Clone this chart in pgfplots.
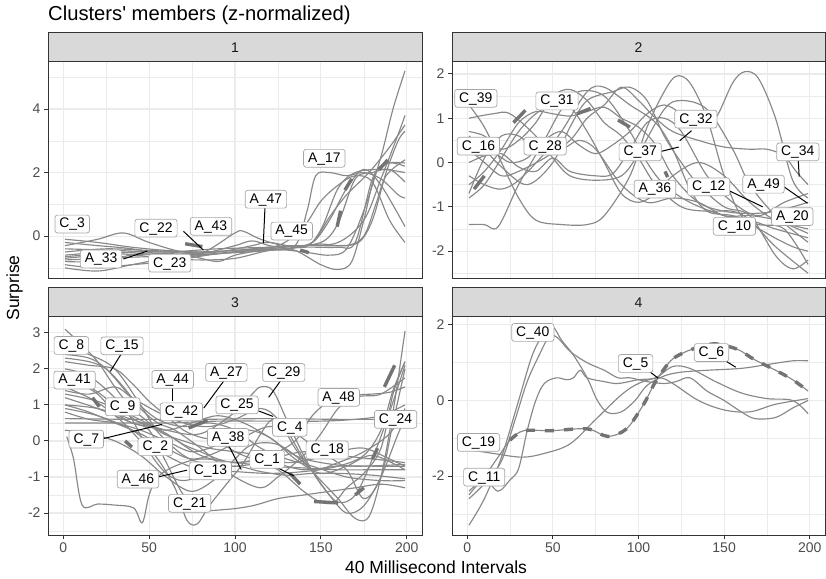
\documentclass[border=0pt]{standalone}
\usepackage{fontspec}
\setmainfont{Liberation Sans}
\usepackage{pgfplots}
\pgfplotsset{compat=1.18}
\definecolor{ln}{HTML}{888888}
\definecolor{hlc}{HTML}{737373}
\definecolor{gridc}{HTML}{EBEBEB}
\definecolor{bord}{HTML}{333333}
\definecolor{stripc}{HTML}{D9D9D9}
\definecolor{tickl}{HTML}{4D4D4D}
\definecolor{labb}{HTML}{A6A6A6}
\newcommand\labf{\fontsize{13.9pt}{15pt}\selectfont}
\newcommand\tickf{\fontsize{14pt}{15pt}\selectfont}
\pgfplotsset{
  panel/.style={
    scale only axis, width=374pt, height=217pt,
    xmin=-8.9, xmax=208.9,
    xtick={0,50,100,150,200}, minor xtick={25,75,125,175},
    grid=both,
    major grid style={gridc, line width=1.1pt},
    minor grid style={gridc, line width=0.55pt},
    axis line style={bord, line width=1pt},
    tick style={bord, line width=1pt},
    tick align=outside, major tick length=4pt, minor tick length=0pt,
    tick pos=left,
    tick label style={font=\tickf, text=tickl},
    /pgf/number format/assume math mode=true,
  },
  dl/.style={ln, line width=1.15pt, smooth, tension=0.55, mark=none},
  hl/.style={hlc, line width=3.4pt, smooth, mark=none},
}
\tikzset{
  lab/.style={draw=labb, fill=white, rounded corners=2.5pt, font=\labf, inner xsep=4.5pt, inner ysep=2.8pt, text height=10pt, text depth=2.2pt, line width=0.7pt, text=black},
  con/.style={black, line width=1pt},
}
\begin{document}
\begin{tikzpicture}
\useasboundingbox (0pt,0pt) rectangle (826pt,578pt);
% ---------------- Panel 1
\begin{axis}[panel, at={(48pt,299pt)}, anchor=south west, ymin=-1.35, ymax=5.48, ytick={0,2,4}, minor ytick={-1,1,3,5}, xticklabels={}, xtick style={draw=none}]
\addplot[dl] coordinates {(1,-0.1)(20,-0.2)(40,-0.35)(60,-0.45)(80,-0.5)(100,-0.45)(120,-0.35)(140,-0.3)(160,-0.2)(175,0.5)(185,1.8)(195,3.2)(199,3.8)};
\addplot[dl] coordinates {(1,-0.3)(20,-0.1)(35,0.1)(50,-0.2)(70,-0.5)(90,-0.5)(110,-0.3)(120,-0.2)(140,-0.35)(150,0.2)(160,1.5)(170,2.0)(185,2.1)(199,2.0)};
\addplot[dl] coordinates {(1,-0.6)(30,-0.5)(60,-0.6)(90,-0.55)(120,-0.45)(135,-0.3)(142,0.8)(147,1.9)(155,2.0)(165,1.9)(175,2.0)(185,1.8)(195,1.3)(199,1.2)};
\addplot[dl] coordinates {(1,-0.8)(20,-0.8)(40,-0.6)(60,-0.55)(80,-0.6)(100,-0.5)(120,-0.4)(140,-0.5)(155,-0.6)(165,-0.4)(175,0.8)(185,2.5)(192,4.0)(199,5.2)};
\addplot[dl] coordinates {(1,-0.9)(20,-1.0)(40,-0.9)(60,-0.8)(80,-0.6)(100,-0.5)(120,-0.4)(140,-0.3)(160,-0.3)(172,-0.2)(180,0.5)(188,2.0)(195,3.0)(199,3.3)};
\addplot[dl] coordinates {(1,-0.7)(20,-0.6)(40,-0.5)(60,-0.5)(80,-0.55)(100,-0.3)(110,-0.15)(120,-0.3)(135,-0.45)(150,-0.9)(160,-1.05)(168,-0.8)(175,0.5)(182,2.0)(190,2.3)(199,2.3)};
\addplot[dl] coordinates {(1,-0.5)(25,-0.4)(50,-0.45)(75,-0.5)(100,-0.45)(125,-0.3)(140,0.3)(150,1.1)(160,1.6)(170,1.9)(180,1.7)(190,0.5)(199,-0.2)};
\addplot[dl] coordinates {(1,-0.75)(25,-0.7)(50,-0.65)(70,-0.7)(90,-0.55)(110,-0.45)(130,-0.4)(145,-0.2)(155,0.5)(165,1.5)(175,2.1)(185,1.6)(199,0.3)};
\addplot[dl] coordinates {(1,-1.0)(20,-1.1)(40,-0.9)(60,-0.7)(75,-0.65)(90,-0.8)(100,-0.6)(115,-0.45)(130,-0.4)(145,-0.2)(155,0.6)(165,1.3)(178,2.0)(190,2.8)(199,3.5)};
\addplot[dl] coordinates {(1,-0.2)(20,-0.3)(40,-0.4)(60,-0.6)(80,-0.55)(100,0.1)(105,0.15)(115,-0.1)(130,-0.3)(150,-0.2)(160,0.4)(170,1.8)(180,2.0)(190,2.1)(199,1.7)};
\addplot[dl] coordinates {(1,-0.65)(30,-0.55)(60,-0.7)(80,-0.75)(100,-0.7)(120,-0.45)(140,-0.35)(160,-0.35)(170,-0.2)(180,1.8)(188,2.3)(199,2.2)};
\addplot[dl] coordinates {(1,-0.4)(30,-0.45)(60,-0.5)(90,-0.4)(120,-0.35)(140,-0.3)(150,-0.25)(165,-0.3)(175,0.0)(182,1.0)(188,1.9)(199,2.4)};
\addplot[hl] coordinates {(164,1.45)(168,1.8)};
\addplot[hl] coordinates {(184,2.1)(189,2.4)};
\addplot[hl] coordinates {(159.5,0.3)(161.5,0.8)};
\addplot[hl] coordinates {(138,-0.44)(143,-0.52)};
\addplot[hl] coordinates {(71,-0.24)(81,-0.33)};
\draw[con] (70,0.15) -- (81.6,-0.44);
\draw[con] (35,-0.72) -- (49,-0.47);
\draw[con] (117.5,0.95) -- (116.5,-0.22);
\node[lab] at (5.2,0.38) {C\_3};
\node[lab] at (54,0.25) {C\_22};
\node[lab] at (86,0.31) {A\_43};
\node[lab] at (22,-0.72) {A\_33};
\node[lab] at (62,-0.85) {C\_23};
\node[lab] at (118,1.16) {A\_47};
\node[lab] at (133,0.16) {A\_45};
\node[lab] at (152,2.45) {A\_17};
\end{axis}
% ---------------- Panel 2
\begin{axis}[panel, at={(452pt,299pt)}, anchor=south west, width=373pt, ymin=-2.63, ymax=2.27, ytick={-2,-1,0,1,2}, minor ytick={-2.5,-1.5,-0.5,0.5,1.5}, xticklabels={}, xtick style={draw=none}]
\addplot[dl] coordinates {(1,-1.4)(10,-1.4)(18,-1.45)(30,-0.5)(45,0.5)(55,1.2)(65,1.6)(80,1.5)(95,0.7)(105,0.0)(115,-0.5)(130,-0.9)(150,-1.2)(165,-1.3)(180,-1.5)(199,-1.7)};
\addplot[dl] coordinates {(1,1.3)(10,0.8)(20,0.0)(30,-0.8)(40,-1.3)(55,-1.4)(70,-1.4)(80,-1.2)(95,-0.3)(105,0.8)(115,1.6)(122,1.95)(130,1.8)(140,1.0)(150,-0.3)(160,-1.2)(175,-1.6)(190,-1.9)(199,-2.0)};
\addplot[dl] coordinates {(1,1.0)(15,1.1)(25,1.1)(40,0.6)(50,0.1)(60,-0.3)(75,-0.4)(90,-0.3)(100,0.2)(115,1.2)(125,1.4)(140,1.2)(155,0.3)(165,-0.5)(180,-1.2)(199,-1.8)};
\addplot[dl] coordinates {(1,-0.7)(10,0.1)(20,0.6)(30,0.6)(40,0.3)(55,0.3)(65,0.5)(75,0.3)(90,-0.5)(105,-0.9)(120,-0.8)(135,-0.9)(150,-1.2)(165,-1.2)(180,-1.3)(199,-1.6)};
\addplot[dl] coordinates {(1,-0.5)(10,-0.2)(20,0.3)(30,0.9)(40,1.15)(50,1.1)(60,1.05)(70,1.15)(80,1.25)(90,1.0)(100,0.8)(110,0.4)(120,-0.3)(135,-0.9)(150,-1.1)(165,-1.15)(180,-1.1)(199,-0.9)};
\addplot[dl] coordinates {(1,-0.3)(10,-0.5)(20,-0.6)(30,-0.4)(45,0.2)(55,0.7)(70,1.6)(80,1.7)(95,1.3)(110,0.9)(120,0.3)(130,-0.6)(140,-1.1)(155,-1.2)(170,-1.4)(185,-1.5)(199,-2.3)};
\addplot[dl] coordinates {(1,0.6)(10,0.3)(20,-0.1)(35,-0.5)(50,0.0)(60,0.8)(70,1.4)(85,1.6)(95,1.7)(105,1.4)(115,0.6)(125,0.0)(135,-0.5)(150,-1.0)(165,-1.2)(180,-2.1)(190,-2.4)(199,-2.2)};
\addplot[dl] coordinates {(1,0.0)(15,0.2)(25,0.0)(35,0.1)(45,0.5)(55,0.7)(65,0.4)(75,0.2)(85,0.4)(95,0.7)(105,1.1)(115,1.3)(125,1.1)(135,0.8)(145,1.0)(155,1.8)(162,2.05)(170,1.9)(180,1.0)(190,-0.4)(199,-0.8)};
\addplot[dl] coordinates {(1,0.3)(10,0.0)(20,-0.3)(30,-0.2)(45,0.1)(60,0.5)(70,1.0)(80,1.3)(90,1.7)(100,1.4)(110,1.0)(120,0.7)(135,0.5)(150,0.35)(165,0.3)(175,0.3)(185,0.15)(192,-0.2)(199,-0.5)};
\addplot[dl] coordinates {(1,-0.8)(10,-0.5)(20,0.1)(30,0.7)(40,1.1)(50,1.3)(60,1.25)(70,0.7)(80,0.0)(90,-0.7)(100,-0.9)(110,-0.7)(120,-0.3)(135,0.0)(150,-0.3)(165,-0.9)(180,-1.3)(199,-1.5)};
\addplot[dl] coordinates {(1,0.7)(10,0.6)(20,0.3)(30,0.5)(40,0.9)(50,1.5)(60,1.65)(70,1.4)(80,0.9)(90,0.6)(100,0.1)(110,-0.5)(125,-1.0)(140,-1.1)(155,-1.1)(165,-1.3)(180,-1.9)(199,-2.5)};
\addplot[dl] coordinates {(1,0.2)(10,0.15)(20,0.2)(30,-0.1)(40,-0.2)(50,0.1)(60,-0.2)(75,-0.3)(85,-0.25)(95,0.3)(105,0.9)(115,1.0)(125,0.7)(140,-0.3)(155,-0.9)(170,-1.2)(185,-0.9)(199,-0.7)};
\addplot[hl] coordinates {(4,-0.6)(10,-0.3)};
\addplot[hl] coordinates {(27,0.9)(34,1.18)};
\addplot[hl] coordinates {(64,1.1)(72,1.22)};
\addplot[hl] coordinates {(88,0.96)(95,0.8)};
\addplot[hl] coordinates {(115.5,-0.2)(117,-0.33)};
\draw[con] (112,0.24) -- (123.5,0.35);
\draw[con] (131,0.72) -- (124,0.49);
\draw[con] (152,-0.62) -- (172.5,-1.0);
\draw[con] (185,-0.55) -- (198.7,-0.92);
\draw[con] (193.3,0.05) -- (193.8,-0.32);
\node[lab] at (5,1.45) {C\_39};
\node[lab] at (52.4,1.39) {C\_31};
\node[lab] at (6.5,0.37) {C\_16};
\node[lab] at (45.5,0.37) {C\_28};
\node[lab] at (101,0.24) {C\_37};
\node[lab] at (133.5,0.98) {C\_32};
\node[lab] at (109.6,-0.6) {A\_36};
\node[lab] at (141,-0.55) {C\_12};
\node[lab] at (173,-0.49) {A\_49};
\node[lab] at (193,0.24) {C\_34};
\node[lab] at (156,-1.44) {C\_10};
\node[lab] at (189.8,-1.22) {A\_20};
\end{axis}
% ---------------- Panel 3
\begin{axis}[panel, at={(48pt,43pt)}, anchor=south west, height=218pt, ymin=-2.61, ymax=3.44, ytick={-2,-1,0,1,2,3}, minor ytick={-2.5,-1.5,-0.5,0.5,1.5,2.5}]
\addplot[dl] coordinates {(1,3.1)(10,2.7)(20,2.2)(30,1.5)(40,0.9)(50,0.5)(60,0.0)(70,-0.4)(80,-0.6)(100,-0.7)(120,-0.6)(140,-0.8)(160,-0.7)(180,-0.7)(199,-0.7)};
\addplot[dl] coordinates {(2,0.12)(6,-0.5)(11,-1.78)(20,-1.75)(30,-1.78)(41,-1.86)(46,-2.27)(50,-1.5)(55,-1.0)(65,-0.7)(80,-0.5)(100,-0.6)(120,-0.7)(140,-0.75)(160,-0.8)(180,-0.8)(199,-0.8)};
\addplot[dl] coordinates {(1,2.3)(15,2.2)(25,2.0)(35,1.5)(45,0.9)(55,0.5)(65,0.3)(80,-0.2)(90,-0.6)(100,-1.0)(115,-1.3)(125,-1.0)(140,-0.4)(150,0.2)(160,0.9)(170,1.25)(180,1.3)(190,1.35)(199,1.5)};
\addplot[dl] coordinates {(1,2.2)(15,2.1)(30,2.0)(40,1.6)(50,1.1)(60,0.7)(70,0.3)(80,0.1)(90,0.0)(100,-0.3)(110,-0.5)(125,-0.8)(140,-1.4)(150,-1.7)(158,-1.7)(165,-1.3)(175,-0.9)(185,-0.2)(192,1.3)(199,2.2)};
\addplot[dl] coordinates {(1,1.9)(10,1.6)(20,1.3)(30,0.8)(40,0.5)(50,0.4)(60,0.2)(70,-0.1)(80,-0.3)(90,-0.5)(100,-0.6)(120,-0.5)(140,-0.3)(160,-0.4)(180,-0.5)(199,-0.6)};
\addplot[dl] coordinates {(1,1.5)(15,1.2)(25,0.9)(35,0.5)(45,0.0)(55,-0.5)(65,-1.3)(72,-2.2)(78,-2.3)(85,-1.8)(95,-1.2)(105,-0.6)(115,0.2)(122,0.6)(130,0.3)(140,-0.5)(155,-1.5)(165,-2.0)(175,-1.8)(185,-1.0)(195,0.2)(199,0.6)};
\addplot[dl] coordinates {(1,1.0)(20,0.9)(40,0.6)(60,0.3)(80,0.2)(100,0.8)(110,1.3)(115,1.5)(122,1.4)(130,0.6)(140,-0.4)(150,-1.2)(160,-1.7)(170,-1.5)(180,-0.5)(190,0.8)(199,2.1)};
\addplot[dl] coordinates {(1,0.62)(40,0.6)(80,0.6)(120,0.62)(160,0.6)(199,0.6)};
\addplot[dl] coordinates {(1,0.5)(30,0.5)(60,0.5)(90,0.55)(120,0.55)(150,0.55)(170,0.6)(185,0.7)(199,1.0)};
\addplot[dl] coordinates {(1,1.3)(20,1.1)(40,0.7)(60,0.2)(80,-0.4)(100,-0.6)(120,-0.4)(135,0.0)(145,0.7)(155,1.1)(165,1.2)(175,1.25)(185,1.3)(199,1.75)};
\addplot[dl] coordinates {(1,2.4)(15,2.3)(25,2.0)(40,1.2)(55,0.6)(70,0.4)(85,0.5)(100,0.3)(115,-0.2)(130,-0.5)(145,-0.7)(165,-1.0)(185,-1.1)(199,-1.1)};
\addplot[dl] coordinates {(1,1.0)(15,0.8)(30,0.5)(45,0.2)(60,-0.2)(75,-0.5)(90,-0.3)(105,0.1)(120,0.4)(135,0.2)(150,-0.3)(165,-0.8)(175,-1.6)(185,-1.0)(192,0.5)(199,2.0)};
\addplot[dl] coordinates {(1,1.2)(20,0.9)(40,0.5)(50,0.3)(60,-0.6)(70,-1.5)(80,-1.9)(95,-1.9)(110,-1.8)(125,-1.6)(140,-1.5)(155,-1.4)(170,-1.3)(185,-1.2)(199,-1.3)};
\addplot[dl] coordinates {(1,0.8)(15,0.6)(30,0.5)(45,0.3)(60,0.0)(75,-0.3)(90,-0.1)(105,0.3)(120,0.1)(135,-0.5)(150,-0.9)(165,-0.7)(180,-0.4)(199,-0.8)};
\addplot[dl] coordinates {(1,2.0)(15,1.8)(30,1.2)(40,0.6)(50,-0.3)(60,-0.9)(70,-1.1)(85,-0.9)(100,-0.7)(115,-0.85)(130,-0.95)(145,-0.9)(160,-0.9)(180,-0.95)(199,-1.05)};
\addplot[dl] coordinates {(1,0.3)(15,0.2)(30,0.0)(45,-0.4)(60,-1.0)(75,-1.4)(90,-1.0)(100,-0.5)(110,-0.1)(125,-0.1)(140,-0.6)(150,-1.1)(160,-1.6)(170,-2.15)(178,-2.1)(185,-1.0)(192,0.8)(199,3.05)};
\addplot[dl] coordinates {(1,1.6)(15,1.5)(30,1.0)(45,0.5)(60,0.3)(75,0.5)(90,0.7)(105,0.5)(120,0.1)(135,-0.4)(150,-0.6)(170,-0.7)(199,-0.65)};
\addplot[dl] coordinates {(1,0.9)(20,0.7)(40,0.3)(60,-0.4)(80,-0.8)(100,-0.85)(120,-0.9)(140,-0.85)(160,-0.7)(175,-0.4)(185,0.3)(192,1.4)(199,2.2)};
\addplot[dl] coordinates {(1,2.6)(15,2.4)(30,2.0)(45,1.0)(55,0.3)(70,0.0)(85,-0.2)(100,-0.3)(115,-0.4)(130,-0.6)(145,-0.5)(160,-0.3)(175,-0.2)(190,-0.5)(199,-0.7)};
\addplot[dl] coordinates {(1,1.4)(15,1.3)(30,1.5)(40,1.2)(55,0.8)(70,0.5)(85,0.4)(100,0.6)(115,0.9)(125,0.6)(135,-0.2)(145,-0.8)(160,-0.6)(175,-0.3)(190,0.2)(199,0.9)};
\addplot[hl] coordinates {(17,1.2)(21,0.95)};
\addplot[hl] coordinates {(36,0.0)(40,-0.17)};
\addplot[hl] coordinates {(73,0.36)(84,0.57)};
\addplot[hl] coordinates {(146,-1.68)(160,-1.72)};
\addplot[hl] coordinates {(132,-0.9)(138,-1.2)};
\addplot[hl] coordinates {(170,-1.5)(175,-1.3)};
\addplot[hl] coordinates {(180,-0.5)(183,-0.2)};
\addplot[hl] coordinates {(187,1.5)(193,2.1)};
\draw[con] (34.2,2.45) -- (27.4,1.93);
\draw[con] (63.7,1.5) -- (63.7,1.12);
\draw[con] (94,1.7) -- (81.8,0.91);
\draw[con] (127,1.7) -- (119.6,1.21);
\draw[con] (110,0.9) -- (122.2,0.68);
\draw[con] (22,0.05) -- (57.5,0.46);
\draw[con] (96,-0.1) -- (103.6,-0.79);
\draw[con] (125,-0.75) -- (134.2,-0.97);
\draw[con] (55,-1.0) -- (72.1,-0.81);
\node[lab] at (4.7,2.65) {C\_8};
\node[lab] at (34.2,2.64) {C\_15};
\node[lab] at (6.6,1.69) {A\_41};
\node[lab] at (63.7,1.71) {A\_44};
\node[lab] at (95,1.9) {A\_27};
\node[lab] at (128.4,1.9) {C\_29};
\node[lab] at (34.6,0.95) {C\_9};
\node[lab] at (68.8,0.81) {C\_42};
\node[lab] at (101.2,1.0) {C\_25};
\node[lab] at (13.4,0.05) {C\_7};
\node[lab] at (131.9,0.38) {C\_4};
\node[lab] at (160.4,1.21) {A\_48};
\node[lab] at (193.5,0.6) {C\_24};
\node[lab] at (53.6,-0.16) {C\_2};
\node[lab] at (96,0.1) {A\_38};
\node[lab] at (118.7,-0.51) {C\_1};
\node[lab] at (153.7,-0.25) {C\_18};
\node[lab] at (43.5,-1.06) {A\_46};
\node[lab] at (85.7,-0.83) {C\_13};
\node[lab] at (73.6,-1.73) {C\_21};
\end{axis}
% ---------------- Panel 4
\begin{axis}[panel, at={(452pt,43pt)}, anchor=south west, width=373pt, height=218pt, ymin=-3.56, ymax=2.21, ytick={-2,0,2}, minor ytick={-3,-1,1}]
\addplot[dl] coordinates {(1,-3.3)(10,-2.6)(20,-1.5)(30,0.0)(38,1.2)(45,1.8)(50,1.95)(55,1.6)(62,1.2)(70,0.6)(76,0.0)(82,-0.32)(90,-0.3)(98,0.0)(105,0.4)(115,0.65)(125,0.75)(140,0.8)(160,0.85)(175,0.95)(190,1.05)(199,1.05)};
\addplot[dl] coordinates {(1,-2.6)(10,-2.2)(20,-1.6)(28,-0.5)(35,0.5)(42,1.2)(48,1.7)(53,1.65)(60,1.3)(70,1.0)(80,0.8)(88,0.6)(95,0.6)(105,0.5)(115,0.45)(122,0.5)(130,0.6)(140,0.25)(150,0.0)(160,-0.3)(168,-0.48)(180,-0.45)(190,-0.2)(199,0.0)};
\addplot[dl] coordinates {(1,-2.5)(10,-2.1)(18,-2.4)(25,-2.1)(30,-1.8)(35,-0.8)(40,0.0)(45,0.45)(52,0.6)(58,0.55)(62,0.6)(66,0.8)(70,0.6)(80,0.5)(88,0.45)(100,0.55)(110,0.6)(120,0.9)(130,0.85)(145,0.5)(160,0.2)(175,0.05)(190,0.0)(199,-0.35)};
\addplot[dl] coordinates {(1,-1.3)(15,-1.4)(32,-1.5)(45,-1.4)(60,-1.15)(75,-0.5)(90,0.15)(100,0.45)(112,0.6)(120,0.45)(135,0.0)(150,-0.25)(165,-0.3)(180,-0.1)(199,0.05)};
\addplot[dl] coordinates {(1,-2.4)(10,-2.0)(18,-1.5)(25,-1.05)(33,-0.8)(49,-0.8)(70,-0.75)(82,-0.95)(93,-0.75)(103,-0.1)(110,0.5)(120,1.1)(134,1.4)(145,1.5)(158,1.35)(167,1.1)(180,0.8)(190,0.55)(199,0.25)};
\addplot[hl, dash pattern=on 9pt off 10pt] coordinates {(25,-1.05)(33,-0.8)(49,-0.8)(70,-0.75)(82,-0.95)(93,-0.75)(103,-0.1)(110,0.5)(120,1.1)(134,1.4)(145,1.5)(158,1.35)(167,1.1)(180,0.8)(190,0.55)(199,0.25)};
\draw[con] (104,0.85) -- (111.5,0.59);
\draw[con] (149,1.1) -- (156.8,0.88);
\node[lab] at (38.3,1.8) {C\_40};
\node[lab] at (98.3,0.98) {C\_5};
\node[lab] at (142.6,1.27) {C\_6};
\node[lab] at (6.6,-1.11) {C\_19};
\node[lab] at (9.9,-2.03) {C\_11};
\end{axis}
% strips
\draw[bord, fill=stripc, line width=1pt] (48pt,516pt) rectangle (422pt,545pt);
\draw[bord, fill=stripc, line width=1pt] (452pt,516pt) rectangle (825pt,545pt);
\draw[bord, fill=stripc, line width=1pt] (48pt,261pt) rectangle (422pt,290pt);
\draw[bord, fill=stripc, line width=1pt] (452pt,261pt) rectangle (825pt,290pt);
\node[font=\tickf, text=black!90] at (235pt,530.5pt) {1};
\node[font=\tickf, text=black!90] at (638.5pt,530.5pt) {2};
\node[font=\tickf, text=black!90] at (235pt,275.5pt) {3};
\node[font=\tickf, text=black!90] at (638.5pt,275.5pt) {4};
% titles
\node[anchor=base west, inner sep=0pt, font=\fontsize{20.2pt}{22pt}\selectfont] at (48pt,557pt) {Clusters\textquotesingle{} members (z-normalized)};
\node[anchor=base, inner sep=0pt, font=\fontsize{17.5pt}{20pt}\selectfont] at (436pt,5pt) {40 Millisecond Intervals};
\node[anchor=base, rotate=90, inner sep=0pt, font=\fontsize{17.5pt}{20pt}\selectfont] at (19pt,290pt) {Surprise};
\end{tikzpicture}
\end{document}
